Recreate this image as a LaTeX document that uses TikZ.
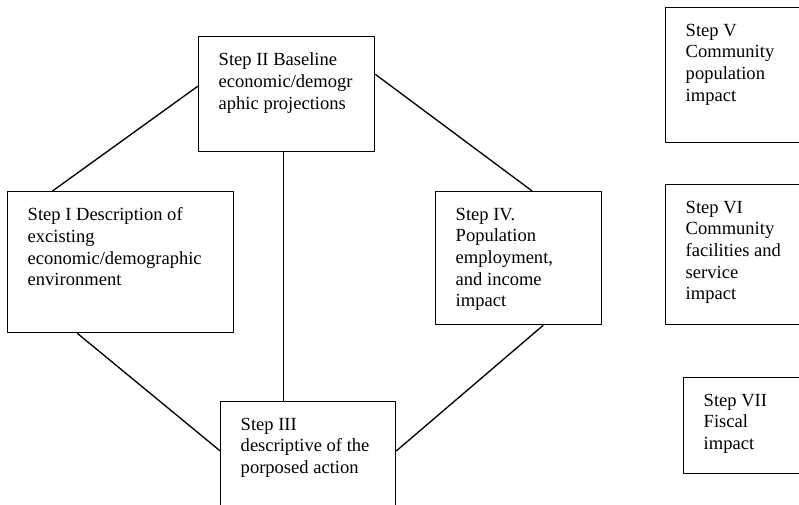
\documentclass[tikz,border=0pt]{standalone}
\usepackage{fontspec}
\setmainfont{Liberation Serif}
\usetikzlibrary{calc}
\newlength{\px}
\setlength{\px}{0.75pt}
\newcommand{\boxbody}[3]{\parbox[t][\dimexpr#2\px-24pt\relax][t]{\dimexpr#1\px-30pt\relax}{\raggedright#3}}

\begin{document}
\begin{tikzpicture}[line cap=round,line join=round,x=0.75pt,y=-0.75pt,
		stepbox/.style={draw,line width=1.1pt,anchor=north west,inner xsep=15pt,inner ysep=12pt,font=\fontsize{13.9pt}{16.3pt}\selectfont}]
			\clip(0,0) rectangle (799,504);
			\node [stepbox] (I) at (7,191) {\boxbody{226}{141}{Step I Description of\\excisting\\economic/demographic\\environment}};
			\node [stepbox] (II) at (198,36) {\boxbody{176}{115}{Step II Baseline\\economic/demogr\\aphic projections}};
			\node [stepbox] (III) at (220,401) {\boxbody{175}{120}{Step III\\descriptive of the\\porposed action}};
			\node [stepbox] (IV) at (435,191) {\boxbody{166}{133}{Step IV.\\Population\\employment,\\and income\\impact}};
			\node [stepbox] (V) at (665,7) {\boxbody{160}{135}{Step V\\Community\\population\\impact}};
			\node [stepbox] (VI) at (665,184) {\boxbody{160}{140}{Step VI\\Community\\facilities and\\service\\impact}};
			\node [stepbox] (VII) at (683,377) {\boxbody{150}{96}{Step VII\\Fiscal\\impact}};
			\draw [line width=1pt] ($(II.north west)!.43!(II.south west)$)-- ($(I.north west)!.2!(I.north east)$);
			\draw [line width=1pt] ($(II.north east)!.33!(II.south east)$)-- ($(IV.north west)!.58!(IV.north east)$);
			\coordinate (IIb) at ($(II.south west)!.48!(II.south east)$);
			\draw [line width=1pt] (IIb)-- (IIb |- III.north);
			\draw [line width=1pt] ($(I.south west)!.31!(I.south east)$)-- ($(III.north west)!.41!(III.south west)$);
			\draw [line width=1pt] ($(IV.south west)!.645!(IV.south east)$)-- ($(III.north east)!.41!(III.south east)$);
		\end{tikzpicture}
\end{document}
